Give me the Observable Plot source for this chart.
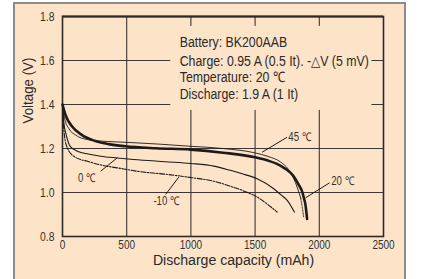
<!DOCTYPE html>
<html>
<head>
<meta charset="utf-8">
<script src="https://cdn.jsdelivr.net/npm/d3@7"></script>
<script src="https://cdn.jsdelivr.net/npm/@observablehq/plot@0.6"></script>
<style>
  html, body { margin: 0; padding: 0; background: #ffffff; }
  #frame { position: absolute; left: 13px; top: 2px; width: 389px; height: 300px;
           background: #fde3c8; border: 2px solid #8c8c8c; border-bottom: none; }
  #chart { position: absolute; left: 0; top: 0; }
  #chart svg { background: transparent; }
</style>
</head>
<body>
<div id="frame"></div>
<div id="chart"></div>
<script>
// ---- data ----
const xTicks = [0, 500, 1000, 1500, 2000, 2500];
const yTicks = [0.8, 1.0, 1.2, 1.4, 1.6, 1.8];

const cap20  = [0, 25, 75, 150, 250, 360, 490, 725, 1000, 1250, 1500, 1600, 1670, 1730, 1775, 1810, 1840, 1866, 1880, 1892, 1905];
const volt20 = [1.40, 1.35, 1.30, 1.262, 1.235, 1.220, 1.210, 1.201, 1.195, 1.181, 1.160, 1.145, 1.130, 1.110, 1.090, 1.065, 1.035, 1.005, 0.975, 0.945, 0.880];

const cap45  = [0, 15, 50, 100, 200, 350, 500, 750, 1000, 1250, 1500, 1600, 1700, 1760, 1800, 1830, 1855];
const volt45 = [1.40, 1.34, 1.29, 1.262, 1.240, 1.232, 1.228, 1.220, 1.210, 1.200, 1.180, 1.164, 1.138, 1.105, 1.065, 1.020, 0.975];
const cap45tail  = [1855, 1868, 1878];
const volt45tail = [0.975, 0.930, 0.890];

const cap0  = [0, 10, 30, 60, 117, 200, 298, 427, 555, 800, 1000, 1179, 1300, 1400, 1516, 1645, 1700, 1750, 1806];
const volt0 = [1.40, 1.32, 1.26, 1.21, 1.188, 1.175, 1.165, 1.157, 1.150, 1.140, 1.132, 1.120, 1.102, 1.085, 1.062, 1.017, 0.990, 0.964, 0.911];

const capM10  = [0, 5, 15, 40, 100, 194, 300, 427, 600, 816, 1000, 1179, 1300, 1420, 1516, 1600, 1672];
const voltM10 = [1.40, 1.33, 1.26, 1.20, 1.16, 1.142, 1.125, 1.112, 1.095, 1.082, 1.068, 1.051, 1.030, 1.005, 0.979, 0.945, 0.911];

const curveLabels = ["45 ℃", "20 ℃", "0 ℃", "-10 ℃"];
const labelAnchor = ["start", "start", "middle", "middle"];
const labelX  = [1759, 2093, 189, 810];
const labelY  = [1.250, 1.051, 1.067, 0.960];
const ptrX1 = [1554, 1893, 427, 906];
const ptrY1 = [1.183, 0.976, 1.158, 1.070];
const ptrX2 = [1749, 2080, 298, 803];
const ptrY2 = [1.251, 1.044, 1.097, 0.991];

const infoLines = ["Battery: BK200AAB", "Charge: 0.95 A (0.5 It). -\u25B3V (5 mV)", "Temperature: 20 ℃", "Discharge: 1.9 A (1 It)"];
const infoY = [1.683, 1.597, 1.524, 1.445];

const xLabel = "Discharge capacity (mAh)";
const yLabel = "Voltage (V)";

// ---- build ----
const BG = "#fde3c8";
const FONT = "'Liberation Sans', Arial, Helvetica, sans-serif";
const zip = (xs, ys) => xs.map((x, i) => ({x, y: ys[i]}));
const s20 = zip(cap20, volt20), s45 = zip(cap45, volt45), s45t = zip(cap45tail, volt45tail);
const s0 = zip(cap0, volt0), sM10 = zip(capM10, voltM10);
const labels = curveLabels.map((t, i) => ({t, a: labelAnchor[i], x: labelX[i], y: labelY[i], x1: ptrX1[i], y1: ptrY1[i], x2: ptrX2[i], y2: ptrY2[i]}));
const info = infoLines.map((t, i) => ({t, y: infoY[i]}));
const box = [{x1: 843, x2: 2410, y1: 1.373, y2: 1.755}];
const ink = "#1e1a1a";

const chart = Plot.plot({
  width: 423, height: 279,
  marginLeft: 62, marginRight: 40, marginTop: 16, marginBottom: 43,
  style: {background: "transparent", fontFamily: FONT, color: "#333"},
  x: {domain: [0, 2500]},
  y: {domain: [0.8, 1.8]},
  marks: [
    Plot.gridX([500, 1000, 1500, 2000], {stroke: "#3d3636", strokeOpacity: 1, strokeWidth: 1.1}),
    Plot.gridY([1.0, 1.2, 1.4, 1.6], {stroke: "#3d3636", strokeOpacity: 1, strokeWidth: 1.1}),
    Plot.rect(box, {x1: "x1", x2: "x2", y1: "y1", y2: "y2", fill: BG}),
    Plot.frame({stroke: "#2e2a2a", strokeWidth: 1.6}),
    Plot.ruleY([1.8], {stroke: "#2e2a2a", strokeWidth: 2.2}),
    Plot.axisX({ticks: xTicks, tickSize: 0, tickPadding: 3, fontSize: 13, label: null, tickFormat: d3.format("d")}),
    Plot.axisY({ticks: yTicks, tickSize: 0, tickPadding: 8, fontSize: 13.5, label: null, tickFormat: d3.format(".1f")}),
    Plot.line(sM10, {x: "x", y: "y", stroke: ink, strokeWidth: 1.1, strokeDasharray: "5,1.5,1.5,1.5", curve: "monotone-x"}),
    Plot.line(s0, {x: "x", y: "y", stroke: ink, strokeWidth: 1.1, curve: "monotone-x"}),
    Plot.line(s45, {x: "x", y: "y", stroke: ink, strokeWidth: 0.9, curve: "monotone-x"}),
    Plot.line(s45t, {x: "x", y: "y", stroke: ink, strokeWidth: 1, strokeDasharray: "1.5,1.5", curve: "monotone-x"}),
    Plot.line(s20, {x: "x", y: "y", stroke: ink, strokeWidth: 2.6, curve: "monotone-x"}),
    Plot.link(labels, {x1: "x1", y1: "y1", x2: "x2", y2: "y2", stroke: ink, strokeWidth: 1}),
    Plot.text(labels.filter(d => d.a === "start"), {x: "x", y: "y", text: "t", fontSize: 12, fill: "#333", textAnchor: "start"}),
    Plot.text(labels.filter(d => d.a === "middle"), {x: "x", y: "y", text: "t", fontSize: 12, fill: "#333", textAnchor: "middle"}),
    Plot.text(info, {x: () => 913, y: "y", text: "t", fontSize: 14.5, fill: "#2a2a2a", textAnchor: "start"}),
    Plot.text([xLabel], {frameAnchor: "bottom", text: d => d, dx: 10.5, dy: 28.5, fontSize: 15.5, fill: "#2a2a2a"}),
    Plot.text([yLabel], {frameAnchor: "left", text: d => d, dx: -34, dy: -3, rotate: -90, fontSize: 14.5, fill: "#2a2a2a"})
  ]
});

// condense text horizontally (reference uses a narrow typeface)
const scaleFor = s => {
  if (infoLines.includes(s)) return 0.85;
  if (s === xLabel) return 0.91;
  if (s === yLabel) return 0.92;
  if (curveLabels.includes(s)) return 0.8;
  return 0.77;
};
chart.querySelectorAll("text").forEach(t => {
  const s = scaleFor(t.textContent);
  const x = +t.getAttribute("x") || 0, y = +t.getAttribute("y") || 0;
  const tr = t.getAttribute("transform") || "";
  t.setAttribute("transform", `${tr} translate(${x},${y}) scale(${s},1) translate(${-x},${-y})`);
});
document.getElementById("chart").appendChild(chart);
</script>
</body>
</html>
